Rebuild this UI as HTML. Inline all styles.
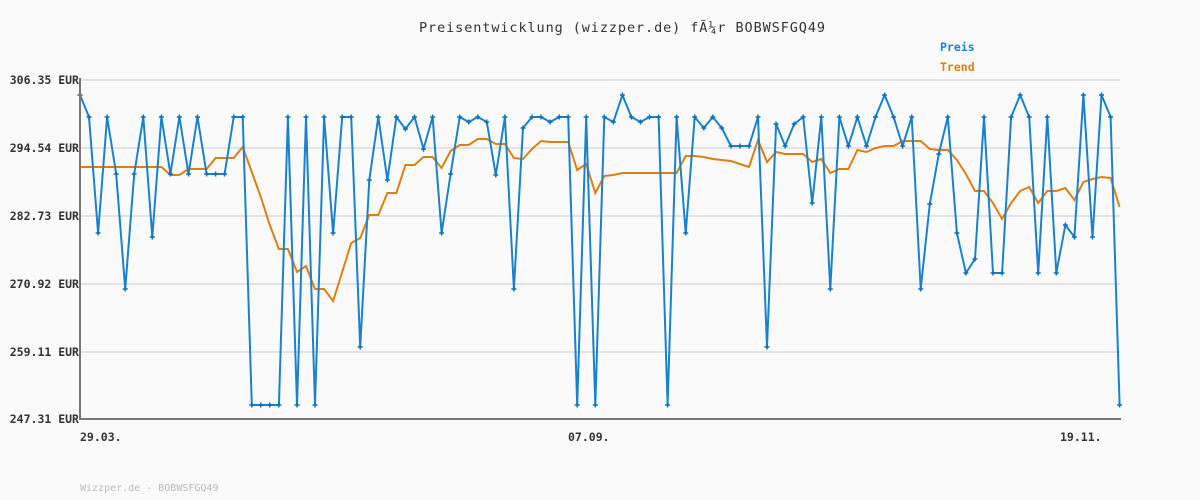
<!DOCTYPE html>
<html><head><meta charset="utf-8"><style>
body{margin:0;background:#fafafa;}
svg{display:block;font-family:"DejaVu Sans Mono","Liberation Mono",monospace;}
</style></head><body>
<svg id="s" width="1200" height="500" xmlns="http://www.w3.org/2000/svg">
<rect width="1200" height="500" fill="#fafafa"/>
<g stroke="#e3e3e3" stroke-width="2">
<line x1="80" y1="80" x2="1120" y2="80"/><line x1="80" y1="148" x2="1120" y2="148"/>
<line x1="80" y1="216" x2="1120" y2="216"/><line x1="80" y1="284" x2="1120" y2="284"/>
<line x1="80" y1="352" x2="1120" y2="352"/>
</g>
<g font-size="11.5" font-weight="bold" fill="#333" text-anchor="end">
<text x="79" y="84">306.35 EUR</text><text x="79" y="152">294.54 EUR</text>
<text x="79" y="220">282.73 EUR</text><text x="79" y="288">270.92 EUR</text>
<text x="79" y="356">259.11 EUR</text><text x="79" y="423">247.31 EUR</text>
</g>
<g font-size="11.5" font-weight="bold" fill="#333">
<text x="80" y="441">29.03.</text><text x="568" y="441">07.09.</text><text x="1060" y="441">19.11.</text>
</g>
<text x="622" y="32" font-size="13.5" fill="#333" text-anchor="middle" textLength="406">Preisentwicklung (wizzper.de) fÃ¼r BOBWSFGQ49</text>
<text x="940" y="51" font-size="11.5" font-weight="bold" fill="#1a82cc">Preis</text>
<text x="940" y="71" font-size="11.5" font-weight="bold" fill="#e07e10">Trend</text>
<text x="80" y="491" font-size="10" fill="#bbb">Wizzper.de - BOBWSFGQ49</text>
<g id="d"></g>
<line x1="80" y1="78" x2="80" y2="420" stroke="#777" stroke-width="2"/>
<line x1="79" y1="419" x2="1121" y2="419" stroke="#777" stroke-width="2"/>
</svg>
<script>
var p=[95,117,233,117,174,289,174,117,237,117,174,117,174,117,174,174,174,117,117,405,405,405,405,117,405,117,405,117,233,117,117,347,180,117,180,117,129,117,149,
117,233,174,117,122,117,122,175,117,289,128,117,117,122,117,117,405,117,405,117,122,95,117,122,117,117,405,117,233,117,128,117,128,146,146,146,117,347,124,
146,124,117,203,117,289,117,146,117,146,117,95,117,146,117,289,204,154,117,233,273,259,117,273,273,117,95,117,273,117,273,225,237,95,237,95,117,405];
var t=[167,167,167,167,167,167,167,167,167,167,175,175,169,169,169,158,158,158,147,172,197,225,249,249,272,266,289,289,301,272,243,238,215,215,193,193,165,165,157,
157,168,151,145,145,139,139,144,144,158,159,149,141,142,142,142,170,164,193,176,175,173,173,173,173,173,173,173,156,156,157,159,160,161,164,167,140,162,152,
154,154,154,162,159,173,169,169,150,152,148,146,146,141,141,141,149,150,150,160,174,191,191,203,219,203,191,187,203,191,191,188,200,182,179,177,178,207];
var d=document.getElementById('d'),h='',X=function(i){return (80+i*9.04).toFixed(1)};
var a=p.map(function(y,i){return X(i)+','+y}).join(' ');
var b=t.map(function(y,i){return X(i)+','+y}).join(' ');
h+='<polyline points="'+b+'" fill="none" stroke="#e07e10" stroke-width="2"/>';
h+='<polyline points="'+a+'" fill="none" stroke="#1a82cc" stroke-width="2"/>';
p.forEach(function(y,i){var x=+X(i);h+='<path d="M'+(x-2.5)+' '+y+'h5M'+x+' '+(y-2.5)+'v5" stroke="#0a70c0" stroke-width="1.5"/>';});
d.innerHTML=h;
</script>
</body></html>
